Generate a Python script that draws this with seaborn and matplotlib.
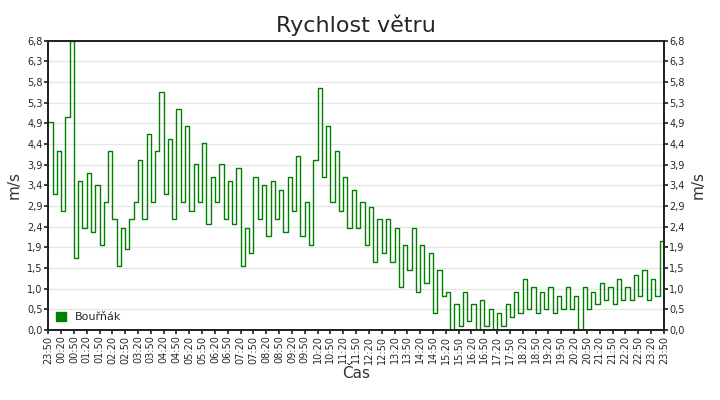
import numpy as np
import pandas as pd
import matplotlib
matplotlib.use("Agg")
import matplotlib.pyplot as plt
from matplotlib.patches import Patch
import seaborn as sns

speed = [
 4.9,3.2,4.2,2.8,5.0,6.8,1.7,
 3.5,2.4,3.7,2.3,3.4,2.0,
 3.0,4.2,2.6,1.5,2.4,1.9,
 2.6,3.0,4.0,2.6,4.6,3.0,
 4.2,5.6,3.2,4.5,2.6,5.2,
 3.0,4.8,2.8,3.9,3.0,4.4,
 2.5,3.6,3.0,3.9,2.6,3.5,
 2.5,3.8,1.5,2.4,1.8,3.6,
 2.6,3.4,2.2,3.5,2.6,3.3,
 2.3,3.6,2.8,4.1,2.2,3.0,
 2.0,4.0,5.7,3.6,4.8,3.0,
 4.2,2.8,3.6,2.4,3.3,2.4,
 3.0,2.0,2.9,1.6,2.6,1.8,
 2.6,1.6,2.4,1.0,2.0,1.4,
 2.4,0.9,2.0,1.1,1.8,0.4,
 1.4,0.8,0.9,0.0,0.6,0.1,
 0.9,0.2,0.6,0.0,0.7,0.1,
 0.5,0.0,0.4,0.1,0.6,0.3,
 0.9,0.4,1.2,0.5,1.0,0.4,
 0.9,0.5,1.0,0.4,0.8,0.5,
 1.0,0.5,0.8,0.0,1.0,0.5,
 0.9,0.6,1.1,0.7,1.0,0.6,
 1.2,0.7,1.0,0.7,1.3,0.8,
 1.4,0.7,1.2,0.8,2.1,1.0
]
n = len(speed)
minutes = np.arange(n) * 10
tick_labels = [f"{((23*60+50+m)//60)%24:02d}:{(23*60+50+m)%60:02d}" for m in range(0, 24*60+1, 30)]
df = pd.DataFrame({"t": minutes, "v": speed})

sns.set_theme(style="white")
plt.rcParams['font.family'] = ['DejaVu Sans']
fig, ax = plt.subplots(figsize=(7.2, 4.0), dpi=100)
fig.subplots_adjust(left=0.067, right=0.922, top=0.898, bottom=0.175)
sns.lineplot(data=df, x="t", y="v", ax=ax, drawstyle="steps-post", color="#008000",
             lw=1.0, legend=False)
ax.set_xlim(0, 24*60)
ax.set_ylim(0, 6.8)
yt = np.linspace(0, 6.8, 15)
ax.set_yticks(yt)
ax.set_yticklabels([f"{v:.1f}".replace(".", ",") for v in yt], fontsize=7)
ax.set_xticks(range(0, 24*60+1, 30))
ax.set_xticklabels(tick_labels, rotation=90, fontsize=7)
ax.grid(axis="y", color="#e6e6e6", lw=1)
ax.tick_params(axis="both", direction="out", length=3, pad=1, left=True, bottom=True)
for s in ax.spines.values():
    s.set_color("black")
ax2 = ax.twinx()
ax2.set_ylim(0, 6.8)
ax2.set_yticks(yt)
ax2.set_yticklabels([f"{v:.1f}".replace(".", ",") for v in yt], fontsize=7)
ax2.tick_params(axis="y", direction="out", length=3, pad=1, right=True)
ax2.set_ylabel("m/s", fontsize=11, color="#333333")
ax.set_ylabel("m/s", fontsize=11, color="#333333")
ax.set_xlabel("Čas", fontsize=11, color="#333333", labelpad=2)
ax.set_title("Rychlost větru", fontsize=16, pad=6)
ax.legend(handles=[Patch(facecolor="#008000", edgecolor="#008000", label="Bouřňák")],
          loc="lower left", frameon=False, fontsize=8, handlelength=0.9, handleheight=0.9,
          handletextpad=0.8, borderaxespad=0.3)
fig.savefig("out.png", dpi=100)
